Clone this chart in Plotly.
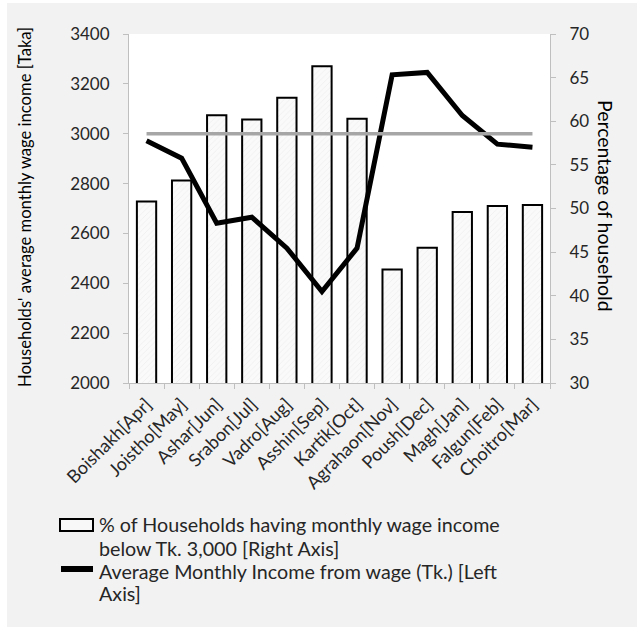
import plotly.graph_objects as go

months = ["Boishakh[Apr]", "Joistho[May]", "Ashar[Jun]", "Srabon[Jul]", "Vadro[Aug]",
          "Asshin[Sep]", "Kartik[Oct]", "Agrahaon[Nov]", "Poush[Dec]", "Magh[Jan]",
          "Falgun[Feb]", "Choitro[Mar]"]
pct_below_3000 = [50.8, 53.2, 60.7, 60.2, 62.7, 66.3, 60.3, 43.0, 45.5, 49.6, 50.3, 50.4]
avg_income = [2972, 2902, 2641, 2665, 2541, 2367, 2541, 3236, 3246, 3073, 2958, 2946]
threshold = [3000] * len(months)

bar_lines = ["% of Households having monthly wage income", "below Tk. 3,000 [Right Axis]"]
line_lines = ["Average Monthly Income from wage (Tk.) [Left", "Axis]"]

FONT = "Lato"
TXT = "#262626"

fig = go.Figure()
fig.add_trace(go.Bar(
    x=months, y=pct_below_3000, name=" ".join(bar_lines), yaxis="y", showlegend=False,
    marker=dict(color="#fafafa", line=dict(color="black", width=2),
                pattern=dict(shape="/", fgcolor="#d9d9d9", bgcolor="#fafafa", size=4, solidity=0.15)),
))
fig.add_trace(go.Scatter(
    x=months, y=avg_income, name=" ".join(line_lines), yaxis="y2", mode="lines", showlegend=False,
    line=dict(color="black", width=5),
))
fig.add_trace(go.Scatter(
    x=months, y=threshold, yaxis="y2", mode="lines", showlegend=False,
    line=dict(color="#a6a6a6", width=3.5),
))

W, H = 637, 627
L, R, T, B = 129, 550, 34, 383
pw, ph = R - L, B - T

def px(x):
    return (x - L) / pw

def py(y):
    return (B - y) / ph

axis_common = dict(showgrid=False, zeroline=False, showline=True, linecolor="#bfbfbf", linewidth=1,
                   ticks="outside", ticklen=5, tickcolor="#bfbfbf")

legend_font = dict(family=FONT, size=19.7, color=TXT)
annotations = [
    dict(text="Households' average monthly wage income [Taka]", xref="paper", yref="paper",
         x=px(25), y=py(207), xanchor="center", yanchor="middle", textangle=-90, showarrow=False,
         font=dict(family=FONT, size=16.6, color="black")),
    dict(text="Percentage of household", xref="paper", yref="paper",
         x=px(606), y=py(206), xanchor="center", yanchor="middle", textangle=90, showarrow=False,
         font=dict(family=FONT, size=19.5, color="black")),
]
for txt, yc in zip(bar_lines + line_lines, [524, 548, 571, 593]):
    annotations.append(dict(text=txt, xref="paper", yref="paper", x=px(97), y=py(yc),
                            xanchor="left", yanchor="middle", showarrow=False, font=legend_font))

fig.update_layout(
    width=W, height=H,
    margin=dict(l=L, r=W - R, t=T, b=H - B),
    paper_bgcolor="#f2f2f2", plot_bgcolor="white",
    bargap=0.45,
    xaxis=dict(type="category", tickangle=-45, tickson="boundaries", ticklabelstandoff=3,
               tickfont=dict(family=FONT, size=18, color=TXT), **axis_common),
    yaxis=dict(side="right", range=[30, 70], dtick=5, ticklabelstandoff=10,
               tickfont=dict(family=FONT, size=17, color=TXT), **axis_common),
    yaxis2=dict(side="left", overlaying="y", range=[2000, 3400], dtick=200, ticklabelstandoff=10,
                tickfont=dict(family=FONT, size=17, color=TXT), **axis_common),
    showlegend=False,
    shapes=[
        dict(type="rect", xref="paper", yref="paper", x0=px(-10), x1=px(7), y0=py(650), y1=py(-10),
             fillcolor="white", line=dict(width=0), layer="below"),
        dict(type="rect", xref="paper", yref="paper", x0=px(-10), x1=px(650), y0=py(3), y1=py(-10),
             fillcolor="white", line=dict(width=0), layer="below"),
        dict(type="rect", xref="paper", yref="paper", x0=px(60), x1=px(93), y0=py(531), y1=py(519),
             fillcolor="#f8f8f8", line=dict(color="black", width=2)),
        dict(type="line", xref="paper", yref="paper", x0=px(61), x1=px(93), y0=py(569), y1=py(569),
             line=dict(color="black", width=6)),
    ],
    annotations=annotations,
)

fig.write_html("out.html")
